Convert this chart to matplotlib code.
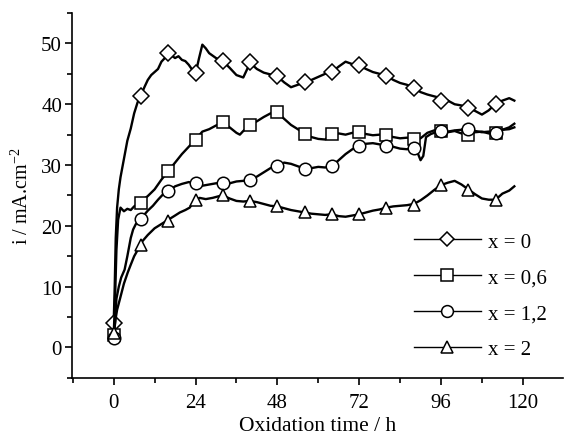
import matplotlib
matplotlib.use("Agg")
import matplotlib.pyplot as plt
from matplotlib.lines import Line2D
from matplotlib.ticker import MultipleLocator

plt.rcParams["font.family"] = ["Liberation Serif", "DejaVu Serif"]
plt.rcParams["mathtext.fontset"] = "custom"
plt.rcParams["mathtext.rm"] = "Liberation Serif"
plt.rcParams["mathtext.it"] = "Liberation Serif:italic"

# curve data (time in h, current density in mA/cm2)
t_x0 = [0, 0.3, 0.6, 1, 1.5, 2, 3, 4, 5, 6, 7, 8, 9, 10, 11, 12, 13, 14, 15, 16,
        17, 18, 19, 20, 21, 22, 23, 24, 25, 26, 27, 28, 29, 30, 32, 34, 36, 38, 40,
        42, 44, 46, 48, 50, 52, 54, 56, 58, 60, 62, 64, 66, 68, 70, 72, 74, 76, 78,
        80, 82, 84, 86, 88, 90, 92, 94, 96, 98, 100, 102, 104, 106, 108, 110, 112,
        114, 116, 117.5]
i_x0 = [4.1, 10, 18, 23, 26, 28, 31, 34, 36, 38.5, 40.3, 41.5, 42.8, 44, 44.8, 45.3,
        45.8, 47, 47.6, 48.5, 48, 47.6, 47.9, 47.3, 47.1, 46.5, 45.7, 45.0, 47.5, 49.8,
        49.2, 48.4, 48.0, 47.6, 47.1, 46.0, 44.8, 44.4, 46.8, 45.8, 45.2, 44.9, 44.6,
        43.6, 42.8, 43.2, 43.6, 44.0, 44.5, 45.0, 45.3, 46.2, 47.0, 46.6, 46.4, 45.8,
        45.3, 45.0, 44.7, 44.0, 43.5, 43.2, 42.7, 42.0, 41.6, 41.3, 41.0, 40.6, 40.0,
        39.8, 39.4, 38.9, 38.3, 39.0, 40.1, 40.6, 41.0, 40.6]

t_x06 = [0, 0.4, 0.8, 1.3, 2, 3, 4, 5, 6, 7, 8, 10, 12, 14, 16, 18, 20, 22, 24, 26,
         28, 30, 32, 34, 36, 37, 38, 40, 42, 44, 46, 48, 50, 52, 54, 56, 58, 60, 62,
         64, 66, 68, 70, 72, 74, 76, 78, 80, 82, 84, 86, 88, 90, 92, 94, 96, 98, 100,
         102, 104, 106, 108, 110, 112, 114, 116, 117.5]
i_x06 = [2.0, 8, 16, 21, 23, 22.4, 22.8, 22.6, 23.2, 23.6, 24, 24.9, 26, 27.6, 29,
         30.4, 31.8, 33, 34.2, 35.5, 35.9, 36.5, 37.0, 36.2, 35.3, 35.0, 35.6, 36.6,
         37.2, 37.9, 38.5, 38.7, 37.6, 36.6, 35.9, 35.1, 34.6, 34.3, 34.2, 35.0, 35.2,
         35.0, 35.3, 35.4, 35.1, 34.9, 35.0, 34.9, 34.6, 34.4, 34.5, 34.3, 34.4, 35.3,
         35.7, 35.8, 35.4, 35.6, 35.2, 35.0, 35.4, 35.5, 35.2, 35.3, 35.8, 36.2, 36.8]

t_x12 = [0, 0.4, 0.8, 1.5, 2.2, 3.2, 4, 5, 5.7, 6.5, 8, 10, 11.5, 13, 14.5, 16, 18,
         20, 22, 24, 26, 28, 30, 32, 34, 36, 38, 40, 42, 44, 46, 48, 50, 52, 54, 56,
         58, 60, 62, 64, 66, 68, 70, 72, 74, 76, 78, 80, 82, 84, 86, 88, 89, 90, 90.8,
         91.6, 93, 94.5, 96, 98, 100, 102, 104, 106, 108, 110, 112, 114, 116, 117.5]
i_x12 = [1.6, 4, 8, 10, 11.5, 12.8, 15, 18, 19.4, 20.3, 21.2, 22.5, 23.3, 24.3, 25.2,
         25.7, 26.5, 26.9, 27.2, 27.0, 26.6, 26.8, 27.0, 27.1, 27.0, 27.3, 27.4, 27.6,
         28.1, 28.8, 29.5, 29.9, 30.4, 30.2, 29.8, 29.4, 29.5, 29.7, 29.6, 29.8, 30.8,
         31.8, 32.6, 33.2, 33.5, 33.6, 33.4, 33.2, 33.0, 32.7, 32.6, 32.8, 32.2, 30.8,
         31.5, 34.6, 35.1, 35.4, 35.6, 35.5, 35.7, 35.8, 35.9, 35.6, 35.4, 35.5, 35.4,
         35.8, 35.9, 36.2]

t_x2 = [0, 0.5, 1, 1.8, 3, 4.1, 5, 6, 7, 8, 10, 12, 14, 16, 18, 19.4, 21, 22.3, 23,
        24, 25.2, 27, 29, 31, 32, 34, 36, 38, 40, 42, 44, 46, 48, 50, 52, 54, 56, 58,
        60, 62, 64, 66, 68, 70, 72, 74, 76, 78, 80, 82, 84, 86, 88, 90, 92, 94, 96,
        98, 100, 102, 104, 106, 108, 110, 112, 114, 116, 117.5]
i_x2 = [2.3, 4.5, 6.2, 7.9, 10.5, 12.3, 13.6, 15, 16, 17.2, 18.5, 19.6, 20.3, 21.0,
        21.7, 22.2, 22.6, 23.0, 23.6, 24.2, 24.6, 24.4, 24.6, 24.9, 25.0, 24.5, 24.1,
        24.0, 24.1, 23.9, 23.6, 23.3, 23.2, 22.9, 22.6, 22.4, 22.2, 22.0, 21.9, 21.8,
        21.9, 21.6, 21.5, 21.7, 21.9, 22.2, 22.5, 22.7, 23.0, 23.2, 23.3, 23.4, 23.6,
        24.2, 25.0, 25.9, 26.7, 27.1, 27.4, 26.8, 26.0, 25.2, 24.5, 24.3, 24.3, 25.3,
        25.8, 26.5]

# marker positions (every 8 h)
t_mark = [0, 8, 16, 24, 32, 40, 48, 56, 64, 72, 80, 88, 96, 104, 112]
m_x0 = [4.1, 41.3, 48.5, 45.1, 47.1, 46.9, 44.6, 43.6, 45.3, 46.4, 44.7, 42.7, 40.5, 39.4, 40.1]
m_x06 = [2.0, 23.8, 29.0, 34.1, 37.0, 36.6, 38.7, 35.1, 35.1, 35.4, 35.0, 34.3, 35.6, 35.0, 35.2]
m_x12 = [1.6, 21.1, 25.7, 27.1, 27.1, 27.6, 29.9, 29.4, 29.8, 33.2, 33.1, 32.8, 35.6, 35.9, 35.3]
m_x2 = [2.3, 16.9, 20.8, 24.3, 25.1, 24.1, 23.2, 22.2, 21.9, 21.9, 23.0, 23.5, 26.7, 25.9, 24.3]

labels = ["x = 0", "x = 0,6", "x = 1,2", "x = 2"]
markers = ["D", "s", "o", "^"]
msizes = [7.8, 8.5, 9, 9]

series = [(t_x0, i_x0, m_x0), (t_x06, i_x06, m_x06),
          (t_x12, i_x12, m_x12), (t_x2, i_x2, m_x2)]

fig = plt.figure(figsize=(5.65, 4.39), dpi=100)
ax = fig.add_axes([0.127, 0.137, 0.869, 0.831])

handles = []
for k, (t, i, m) in enumerate(series):
    ax.plot(t, i, color="black", lw=1.7, zorder=2 + k)
    ax.plot(t_mark, m, ls="none", marker=markers[k], ms=msizes[k],
            mfc="white", mec="black", mew=1.1, zorder=2.5 + k)
    handles.append(Line2D([], [], color="black", lw=1.0, marker=markers[k],
                          ms=msizes[k] - 0.5, mfc="white", mec="black", mew=1.1))

ax.set_xlim(-12.3, 131.7)
ax.set_ylim(-5, 55)
ax.xaxis.set_minor_locator(MultipleLocator(12))
ax.yaxis.set_minor_locator(MultipleLocator(5))
ax.set_xticks([0, 24, 48, 72, 96, 120])
ax.set_yticks([0, 10, 20, 30, 40, 50])

for side in ["top", "right"]:
    ax.spines[side].set_visible(False)
for side in ["left", "bottom"]:
    ax.spines[side].set_linewidth(1.2)

ax.tick_params(which="major", direction="out", length=5, width=1.2, labelsize=15)
ax.tick_params(which="minor", direction="out", length=3.5, width=1.2)
ax.tick_params(axis="x", which="major", pad=6)
ax.tick_params(axis="y", which="major", pad=2)

ax.set_xlabel("Oxidation time / h", fontsize=15.5, labelpad=3)
ax.set_ylabel("i / mA.cm$^{-2}$", fontsize=14.5, labelpad=6)

leg = ax.legend(handles, labels, loc="lower right", bbox_to_anchor=(1.006, 0.0),
                frameon=False, fontsize=15, handlelength=3.2, handletextpad=0.35,
                labelspacing=0.78)

fig.savefig("out.png", dpi=100)
